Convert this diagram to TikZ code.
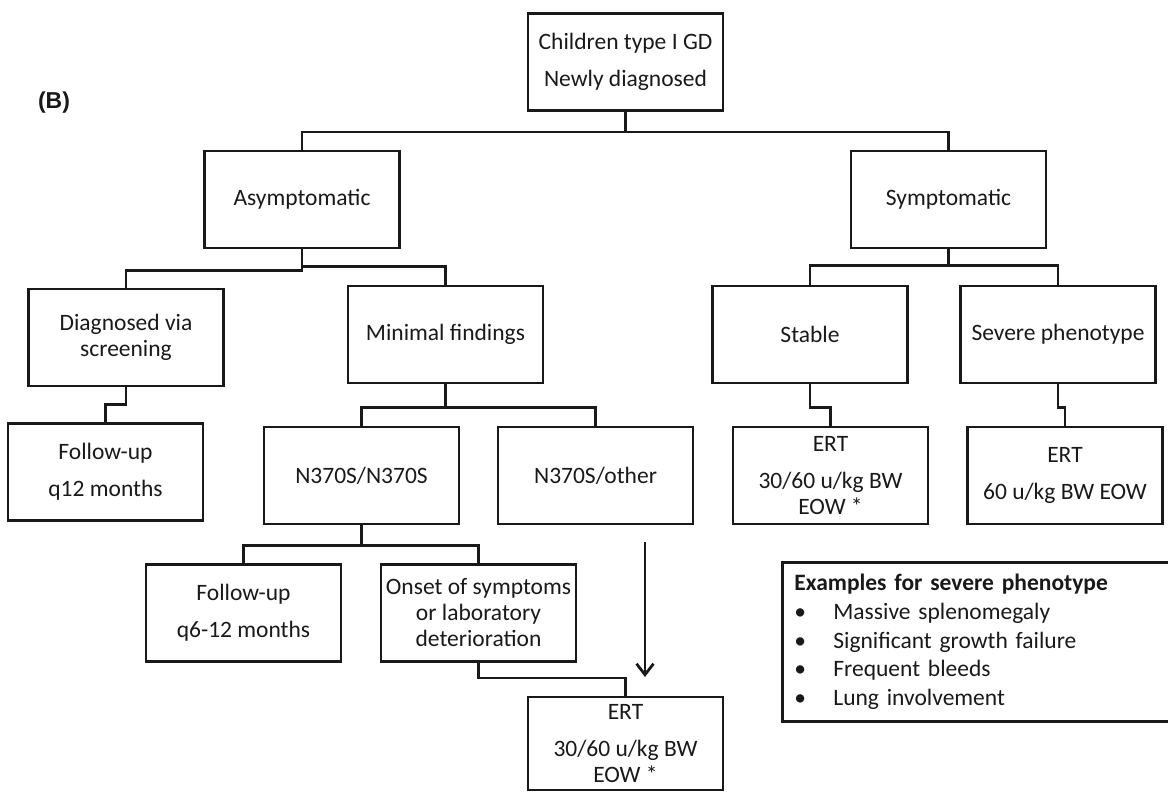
\documentclass[tikz,border=0pt]{standalone}
\usepackage{fontspec}
\setmainfont{Carlito}
\newfontfamily\panelfont{Liberation Sans}
\usetikzlibrary{arrows.meta}
\begin{document}
\begin{tikzpicture}[x=1pt, y=-1pt, line width=2.8pt, color=black!90,
    box/.style={draw, minimum width=195pt, minimum height=97pt, inner sep=0pt,
        align=center, font=\fontsize{23.5}{26}\selectfont},
    legendbox/.style={draw, anchor=north west, text width=380pt, inner xsep=12pt,
        minimum height=159pt, align=left, font=\fontsize{23.5}{28.7}\selectfont}]
    \useasboundingbox (0,0) rectangle (1168,792);
    \node[font=\panelfont\bfseries\fontsize{23}{26}\selectfont] (panel) at (54,103) {(B)};
    % top levels
    \node[box] (root) at (625.5,62) {Children type I GD\\[11pt]Newly diagnosed};
    \node[box] (asym) at (302,199.5) {Asymptomatic};
    \node[box] (symp) at (948.5,199.5) {Symptomatic};
    \node[box] (diag) at (126,337.5) {Diagnosed via\\screening};
    \node[box] (minimal) at (445.5,334.5) {Minimal findings};
    \node[box] (stable) at (810,334.5) {Stable};
    \node[box] (severe) at (1058,334.5) {Severe phenotype};
    % treatments and genotypes
    \node[box] (fuyear) at (105.5,472) {Follow-up\\[11pt]q12 months};
    \node[box] (homo) at (361.5,475.5) {N370S/N370S};
    \node[box] (other) at (595.5,475.5) {N370S/other};
    \node[box] (ertstable) at (830.5,475.5) {ERT\\[11pt]30/60 u/kg BW\\EOW *};
    \node[box] (ertsevere) at (1065,475.5) {ERT\\[11pt]60 u/kg BW EOW};
    \node[box] (fuhalf) at (243.5,613) {Follow-up\\[11pt]q6-12 months};
    \node[box] (onset) at (478.5,613) {Onset of symptoms\\or laboratory\\deterioration};
    \node[box, minimum height=93pt] (ertlow) at (625.5,743.5) {ERT\\[11pt]30/60 u/kg BW\\EOW *};
    % connectors
    \draw (root.south) -- ++(0,20) coordinate (j0);
    \draw (asym.north) |- (j0) -| (symp.north);
    \draw (asym.south) -- ++(0,21) -| (diag.north);
    \draw (asym.south) ++(0,17) -| (minimal.north);
    \draw (diag.south) -- ++(0,17) -| (fuyear.north);
    \draw (minimal.south) -- ++(0,23) coordinate (j1);
    \draw (homo.north) |- (j1) -| (other.north);
    \draw (homo.south) -- ++(0,20) coordinate (j2);
    \draw (fuhalf.north) |- (j2) -| (onset.north);
    \draw (onset.south) -- ++(0,15) -| (ertlow.north);
    \draw (symp.south) -- ++(0,16) coordinate (j3);
    \draw (stable.north) |- (j3) -| (severe.north);
    \draw (stable.south) -- ++(0,23) -| (ertstable.north);
    \draw (severe.south) -- ++(0,23) -| (ertsevere.north);
    \coordinate (arrtop) at (645,542);
    \coordinate (arrtip) at (645,677);
    \draw[-{Straight Barb[length=11pt,width=17pt]}] (arrtop) -- (arrtip);
    % legend
    \node[legendbox] (legend) at (781,561) {\textbf{Examples for severe phenotype}\\
        \makebox[39pt][l]{•}Massive splenomegaly\\
        \makebox[39pt][l]{•}Significant growth failure\\
        \makebox[39pt][l]{•}Frequent bleeds\\
        \makebox[39pt][l]{•}Lung involvement};
\end{tikzpicture}
\end{document}
